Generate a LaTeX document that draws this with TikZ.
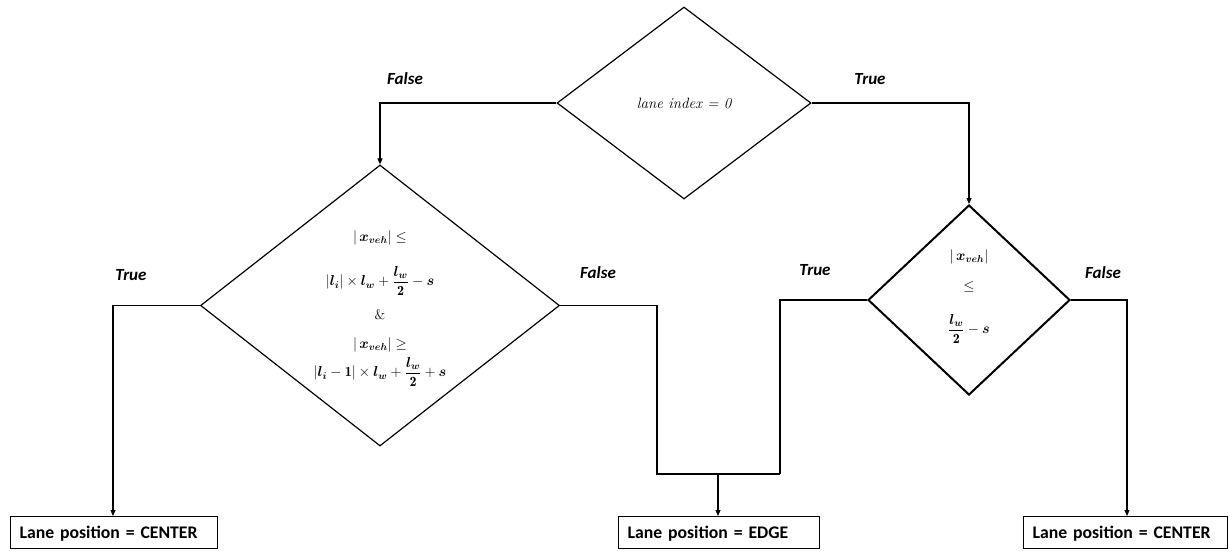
\documentclass[tikz,border=0pt]{standalone}
\usepackage{amsmath}
\usepackage{bm}
\usepackage{fontspec}
\setsansfont{Carlito}
\usetikzlibrary{shapes.geometric,arrows.meta}
\begin{document}
\begin{tikzpicture}[x=1pt,y=-1pt,
  dia/.style={diamond, draw, line width=1.2pt, inner sep=0pt, aspect=1},
  outbox/.style={rectangle, draw, line width=1.2pt, minimum height=32pt, inner xsep=9pt, inner ysep=0pt, text depth=0pt, anchor=north west, align=left, font=\sffamily\bfseries\fontsize{17.7}{17.7}\selectfont},
  conn/.style={line width=1.1pt},
  arr/.style={line width=1.1pt, -{Triangle[length=6pt,width=5pt]}},
  lbl/.style={font=\sffamily\bfseries\itshape\fontsize{17}{17}\selectfont},
  mth/.style={font=\fontsize{14}{14}\selectfont}
]
\useasboundingbox (0,0) rectangle (1229,550);
% diamonds
\node[dia, minimum width=254pt, minimum height=192pt] (d0) at (684,103) {};
\node[font=\fontsize{15}{15}\selectfont\itshape] (t0) at (684,103) {lane index = 0};
\node[dia, minimum width=359pt, minimum height=281pt] (d1) at (380,305.5) {};
\node[dia, line width=2pt, minimum width=202pt, minimum height=190pt] (d2) at (969,300) {};
% texts in left diamond
\node[mth] (a1) at (380,238) {$|\,\bm{x_{veh}}|\le$};
\node[mth] (a2) at (380,281) {$|\bm{l_i}|\times\bm{l_w}+\dfrac{\bm{l_w}}{\mathbf{2}}-\bm{s}$};
\node[mth] (a3) at (380,315) {$\bm{\&}$};
\node[mth] (a4) at (380,345) {$|\,\bm{x_{veh}}|\ge$};
\node[mth] (a5) at (380,372) {$|\bm{l_i}-\mathbf{1}|\times\bm{l_w}+\dfrac{\bm{l_w}}{\mathbf{2}}+\bm{s}$};
% texts in right diamond
\node[mth] (b1) at (969,257) {$|\,\bm{x_{veh}}|$};
\node[mth] (b2) at (969,287) {$\le$};
\node[mth] (b3) at (969,329) {$\dfrac{\bm{l_w}}{\mathbf{2}}-\bm{s}$};
% output boxes
\node[outbox, minimum width=207pt, text width=189pt] (o1) at (10,516) {Lane position = CENTER};
\node[outbox, minimum width=201pt, text width=183pt] (o2) at (618,516) {Lane position = EDGE};
\node[outbox, minimum width=204pt, text width=186pt] (o3) at (1023,516) {Lane position = CENTER};
% labels
\node[lbl] (l1) at (405,79) {False};
\node[lbl] (l2) at (870,79) {True};
\node[lbl] (l3) at (131,275) {True};
\node[lbl] (l4) at (598,273) {False};
\node[lbl] (l5) at (815,270) {True};
\node[lbl] (l6) at (1103,273) {False};
% junction coordinates
\coordinate (jl) at (657,474);
\coordinate (jr) at (780,474);
\coordinate (jm) at (718,474);
% connectors
\draw[arr] (d0.west) -| (d1.north);
\draw[arr] (d0.east) -| (d2.north);
\draw[arr] (d1.west) -| (o1.north -| 113,0);
\draw[conn] (d1.east) -| (jl) -- (jr);
\draw[conn] (d2.west) -| (jr);
\draw[arr] (jm) -- (o2.north -| jm);
\draw[arr] (d2.east) -| (o3.north -| 1127,0);
\end{tikzpicture}
\end{document}
